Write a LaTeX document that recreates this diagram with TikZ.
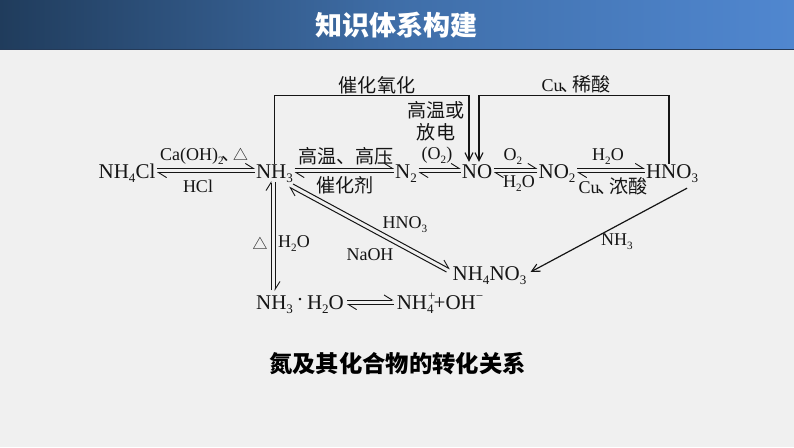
\documentclass[tikz,border=0pt]{standalone}
\usepackage{fontspec}
\usepackage{graphicx}
\setmainfont{Liberation Serif}
\newfontfamily\cjk[Scale=1.06]{Noto Sans CJK SC}
\usetikzlibrary{arrows.meta}
\definecolor{ink}{HTML}{151515}
\definecolor{bg}{HTML}{F0F0F0}
\definecolor{bandl}{HTML}{203C5C}
\definecolor{bandm}{HTML}{3F6EA8}
\definecolor{bandr}{HTML}{5087D0}
\definecolor{bandb}{HTML}{243A58}
\newcommand\lo[1]{\raisebox{-.22em}{\scalebox{.62}{#1}}}
\newcommand\hi[1]{\raisebox{.42em}{\scalebox{.62}{#1}}}
\newcommand\tri{{\fontsize{14}{16}\selectfont\cjk △}}
\newcommand\dun{{\cjk\kern-.12em、\kern-.38em}}
\tikzset{
  x=1pt,y=-1pt,
  chem/.style={inner sep=0pt,text=ink,font=\fontsize{21}{23}\selectfont,text height=14pt,text depth=4pt},
  lbl/.style={inner sep=0pt,text=ink,font=\fontsize{18}{21}\selectfont},
  eqa/.style={draw=ink,line width=1pt,-{Straight Barb[left,length=8pt,width=10pt,line width=.9pt]}},
  one/.style={draw=ink,line width=1.2pt,-{Straight Barb[length=8pt,width=8pt,line width=1.1pt]}},
  head/.style={inner sep=0pt,text=white,font=\fontsize{25.5}{28}\selectfont\cjk\bfseries},
}
\begin{document}
\begin{tikzpicture}
\useasboundingbox (0,0) rectangle (794,447);
\fill[bg] (0,0) rectangle (794,447);
\shade[left color=bandl,right color=bandr,middle color=bandm] (0,0) rectangle (794,49);
\fill[bandb] (0,48.5) rectangle (794,49.5);
\node[head] (title) at (396.5,25) {知识体系构建};

\node[chem] (nh4cl) at (127,173) {NH\lo{4}Cl};
\node[chem] (nh3) at (274.5,173) {NH\lo{3}};
\node[chem] (n2) at (406,173) {N\lo{2}};
\node[chem] (no) at (477,173) {NO};
\node[chem] (no2) at (557,173) {NO\lo{2}};
\node[chem] (hno3) at (672,173) {HNO\lo{3}};
\node[chem] (nh4no3) at (489.5,275) {NH\lo{4}NO\lo{3}};
\node[chem] (nh3w) at (300,304) {NH\lo{3}\,\raisebox{.1em}{·}\,H\lo{2}O};
\node[chem] (ions) at (440,304) {NH\hi{\kern.08em+}\kern-.4em\lo{4}+OH\hi{−}};

\coordinate (cat) at (469,95.5);
\coordinate (cu) at (479,95.5);

% equilibria
\foreach \a/\b in {nh4cl/nh3,nh3/n2,n2/no,no/no2,no2/hno3}{
  \draw[eqa] ([xshift=1.5pt,yshift=4.6pt]\a.east) -- ([xshift=-1pt,yshift=4.6pt]\b.west);
  \draw[eqa] ([xshift=-1pt,yshift=.4pt]\b.west) -- ([xshift=1.5pt,yshift=.4pt]\a.east);
}
\draw[eqa] ([xshift=3pt,yshift=4pt]nh3w.east) -- ([xshift=-3pt,yshift=4pt]ions.west);
\draw[eqa] ([xshift=-3pt,yshift=-.6pt]ions.west) -- ([xshift=3pt,yshift=-.6pt]nh3w.east);

% NH3 <-> NH3.H2O
\draw[eqa] ([shift={(-29,-14)}]nh3w.center) -- ([shift={(-3.5,8)}]nh3.center);
\draw[eqa] ([shift={(.5,9)}]nh3.center) -- ([shift={(-25,-13)}]nh3w.center);

% NH3 <-> NH4NO3
\draw[eqa] ([shift={(18.5,11)}]nh3.center) -- ([shift={(-39.5,-6)}]nh4no3.center);
\draw[eqa] ([shift={(-43,-3)}]nh4no3.center) -- ([shift={(14.5,14)}]nh3.center);

% single arrows
\draw[one] (nh3.north) |- (cat) -- ([shift={(-8,-2)}]no.north);
\draw[one] ([xshift=-3pt]hno3.north) |- (cu) -- ([shift={(2,-2)}]no.north);
\draw[one] ([shift={(15,6)}]hno3.south) -- ([shift={(4,-3)}]nh4no3.east);

% labels
\node[lbl] (l1) at (204,156) {Ca(OH)\lo{2}\dun\tri};
\node[lbl] (l2) at (198,186) {HCl};
\node[lbl] (l3) at (346,156) {\cjk 高温、高压};
\node[lbl] (l4) at (345,185) {\cjk 催化剂};
\node[lbl] (l5) at (377,85) {\cjk 催化氧化};
\node[lbl] (l6) at (436,110) {\cjk 高温或};
\node[lbl] (l7) at (436,132) {\cjk 放电};
\node[lbl] (l8) at (437,155) {(O\lo{2})};
\node[lbl] (l9) at (513,157) {O\lo{2}};
\node[lbl] (l10) at (519,184) {H\lo{2}O};
\node[lbl] (l11) at (608,157) {H\lo{2}O};
\node[lbl] (l12) at (613,186) {Cu\dun{\cjk 浓酸}};
\node[lbl] (l13) at (576,84) {Cu\dun{\cjk 稀酸}};
\node[lbl] (l14) at (405,225) {HNO\lo{3}};
\node[lbl] (l15) at (370,255) {NaOH};
\node[lbl] (l16) at (260,243) {\tri};
\node[lbl] (l17) at (294,244) {H\lo{2}O};
\node[lbl] (l18) at (617,242) {NH\lo{3}};
\node[inner sep=0pt,text=black,font=\fontsize{22}{26}\selectfont\cjk\bfseries] (cap) at (397.5,364) {氮及其化合物的转化关系};
\end{tikzpicture}
\end{document}
